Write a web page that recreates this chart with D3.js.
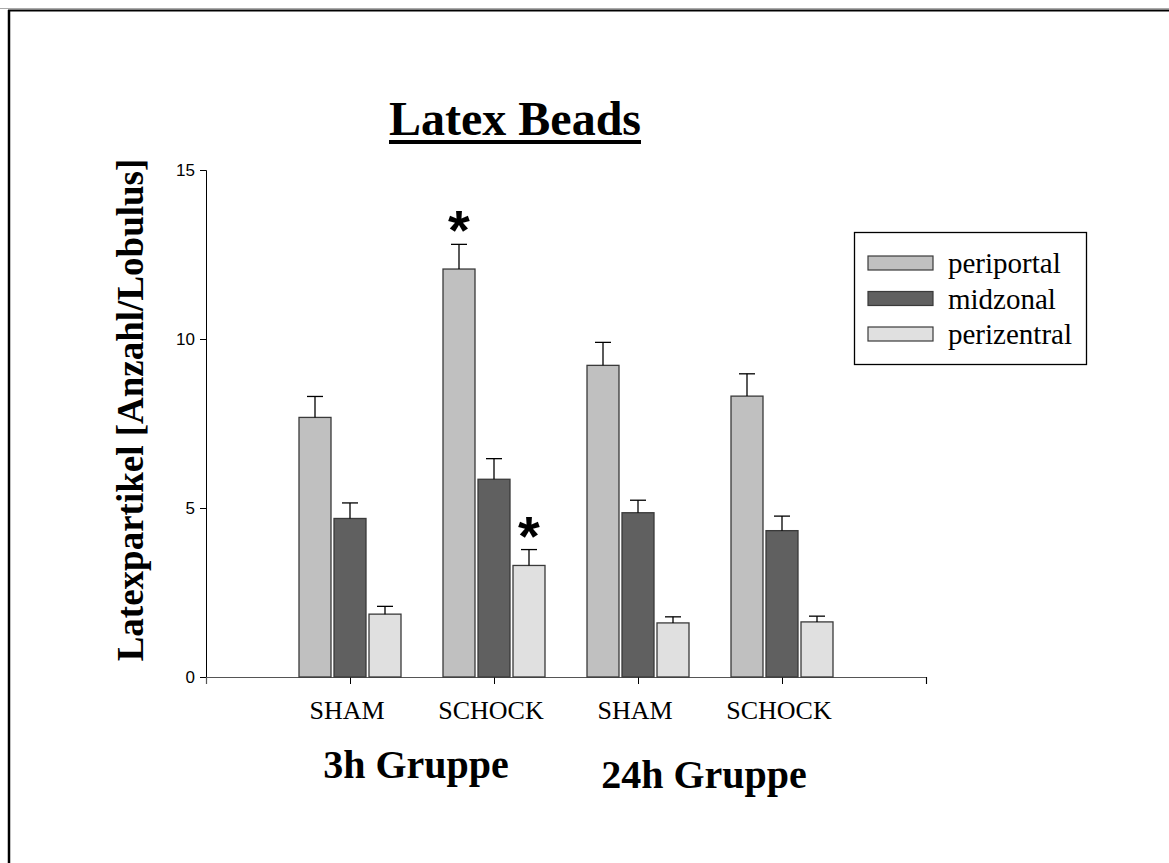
<!DOCTYPE html>
<html>
<head>
<meta charset="utf-8">
<script src="https://cdn.jsdelivr.net/npm/d3@7"></script>
<style>
  html, body { margin: 0; padding: 0; background: #fff; }
  svg { display: block; }
</style>
</head>
<body>
<svg id="chart" width="1169" height="863"></svg>
<script>
// ---- data ----
const categories = ["SHAM", "SCHOCK", "SHAM", "SCHOCK"];
const groups = ["3h Gruppe", "24h Gruppe"];
const seriesNames = ["periportal", "midzonal", "perizentral"];
const periportal = [7.68, 12.07, 9.22, 8.31];
const midzonal = [4.69, 5.85, 4.86, 4.33];
const perizentral = [1.86, 3.30, 1.60, 1.63];
const periportalErr = [0.62, 0.73, 0.68, 0.66];
const midzonalErr = [0.46, 0.61, 0.37, 0.43];
const perizentralErr = [0.23, 0.47, 0.18, 0.17];
const yTicks = [0, 5, 10, 15];
const significant = [[1, 0], [1, 2]]; // [category index, series index]

const colors = ["#c0c0c0", "#606060", "#e0e0e0"];
const values = [periportal, midzonal, perizentral];
const errors = [periportalErr, midzonalErr, perizentralErr];

const svg = d3.select("#chart");
const serif = "Liberation Serif, Times New Roman, serif";
const sans = "Liberation Sans, Arial, sans-serif";

// frame
svg.append("line").attr("x1", 0).attr("x2", 1169).attr("y1", 8.5).attr("y2", 8.5)
  .attr("stroke", "#aaa").attr("stroke-width", 1);
svg.append("line").attr("x1", 8).attr("x2", 1169).attr("y1", 10.5).attr("y2", 10.5)
  .attr("stroke", "#000").attr("stroke-width", 2);
svg.append("line").attr("x1", 9).attr("x2", 9).attr("y1", 10).attr("y2", 863)
  .attr("stroke", "#000").attr("stroke-width", 2.5);

// scales
const x = d3.scaleLinear().domain([0, categories.length + 1]).range([206, 926]);
const y = d3.scaleLinear().domain([0, 15]).range([677, 170]);
const barW = 32, barStep = 35;

// y axis
const yAxis = svg.append("g").attr("transform", "translate(206,0)")
  .call(d3.axisLeft(y).tickValues(yTicks).tickSize(6).tickPadding(5));
yAxis.select(".domain").attr("stroke", "#000").attr("stroke-width", 1);
yAxis.selectAll(".tick line").attr("stroke", "#000");
yAxis.selectAll(".tick text").attr("font-family", sans)
  .attr("font-size", 17).attr("fill", "#000");

// x axis
const xAxis = svg.append("g").attr("transform", "translate(0,677)")
  .call(d3.axisBottom(x).tickValues([1, 2, 3, 4, 5]).tickSize(7).tickFormat(""));
xAxis.select(".domain").attr("stroke", "#555").attr("stroke-width", 1.2);
xAxis.selectAll(".tick line").attr("stroke", "#000");

// bars
seriesNames.forEach((s, si) => {
  const g = svg.append("g");
  categories.forEach((c, ci) => {
    const cx = x(ci + 1) + (si - 1) * barStep;
    const v = values[si][ci];
    g.append("rect")
      .attr("x", cx - barW / 2).attr("y", y(v))
      .attr("width", barW).attr("height", y(0) - y(v))
      .attr("fill", colors[si]).attr("stroke", "#3a3a3a").attr("stroke-width", 1.3);
    const e = errors[si][ci];
    g.append("line").attr("x1", cx).attr("x2", cx).attr("y1", y(v)).attr("y2", y(v + e))
      .attr("stroke", "#000").attr("stroke-width", 1.3);
    g.append("line").attr("x1", cx - 8).attr("x2", cx + 8).attr("y1", y(v + e)).attr("y2", y(v + e))
      .attr("stroke", "#000").attr("stroke-width", 1.3);
  });
});

// significance stars
significant.forEach(([ci, si]) => {
  const cx = x(ci + 1) + (si - 1) * barStep;
  const top = values[si][ci] + errors[si][ci];
  svg.append("text").attr("x", cx).attr("y", y(top) + 5)
    .attr("text-anchor", "middle")
    .attr("font-family", sans)
    .attr("font-weight", "bold").attr("font-size", 56).text("*");
});

// category labels
categories.forEach((c, ci) => {
  svg.append("text").attr("x", x(ci + 1) - 3).attr("y", 719)
    .attr("text-anchor", "middle")
    .attr("font-family", serif)
    .attr("font-size", 26).text(c);
});

// group labels
svg.append("text").attr("x", 416).attr("y", 778).attr("text-anchor", "middle")
  .attr("font-family", serif)
  .attr("font-weight", "bold").attr("font-size", 40).text(groups[0]);
svg.append("text").attr("x", 704).attr("y", 788).attr("text-anchor", "middle")
  .attr("font-family", serif)
  .attr("font-weight", "bold").attr("font-size", 40).text(groups[1]);

// title
const title = svg.append("text").attr("x", 515).attr("y", 135).attr("text-anchor", "middle")
  .attr("font-family", serif)
  .attr("font-weight", "bold").attr("font-size", 48).text("Latex Beads");
const tb = title.node().getBBox();
svg.append("rect").attr("x", tb.x).attr("y", 140).attr("width", tb.width).attr("height", 4).attr("fill", "#000");

// y label
svg.append("text")
  .attr("transform", "translate(143,410) rotate(-90)")
  .attr("text-anchor", "middle")
  .attr("font-family", serif)
  .attr("font-weight", "bold").attr("font-size", 37)
  .text("Latexpartikel [Anzahl/Lobulus]");

// legend
const lg = svg.append("g");
lg.append("rect").attr("x", 854.5).attr("y", 232.5).attr("width", 232).attr("height", 132)
  .attr("fill", "#fff").attr("stroke", "#000").attr("stroke-width", 1.3);
seriesNames.forEach((s, si) => {
  const cy = 263 + si * 35.5;
  lg.append("rect").attr("x", 868).attr("y", cy - 7).attr("width", 65).attr("height", 14)
    .attr("fill", colors[si]).attr("stroke", "#3a3a3a").attr("stroke-width", 1.2);
  lg.append("text").attr("x", 948).attr("y", cy + 10)
    .attr("font-family", serif)
    .attr("font-size", 29).text(s);
});
</script>
</body>
</html>
